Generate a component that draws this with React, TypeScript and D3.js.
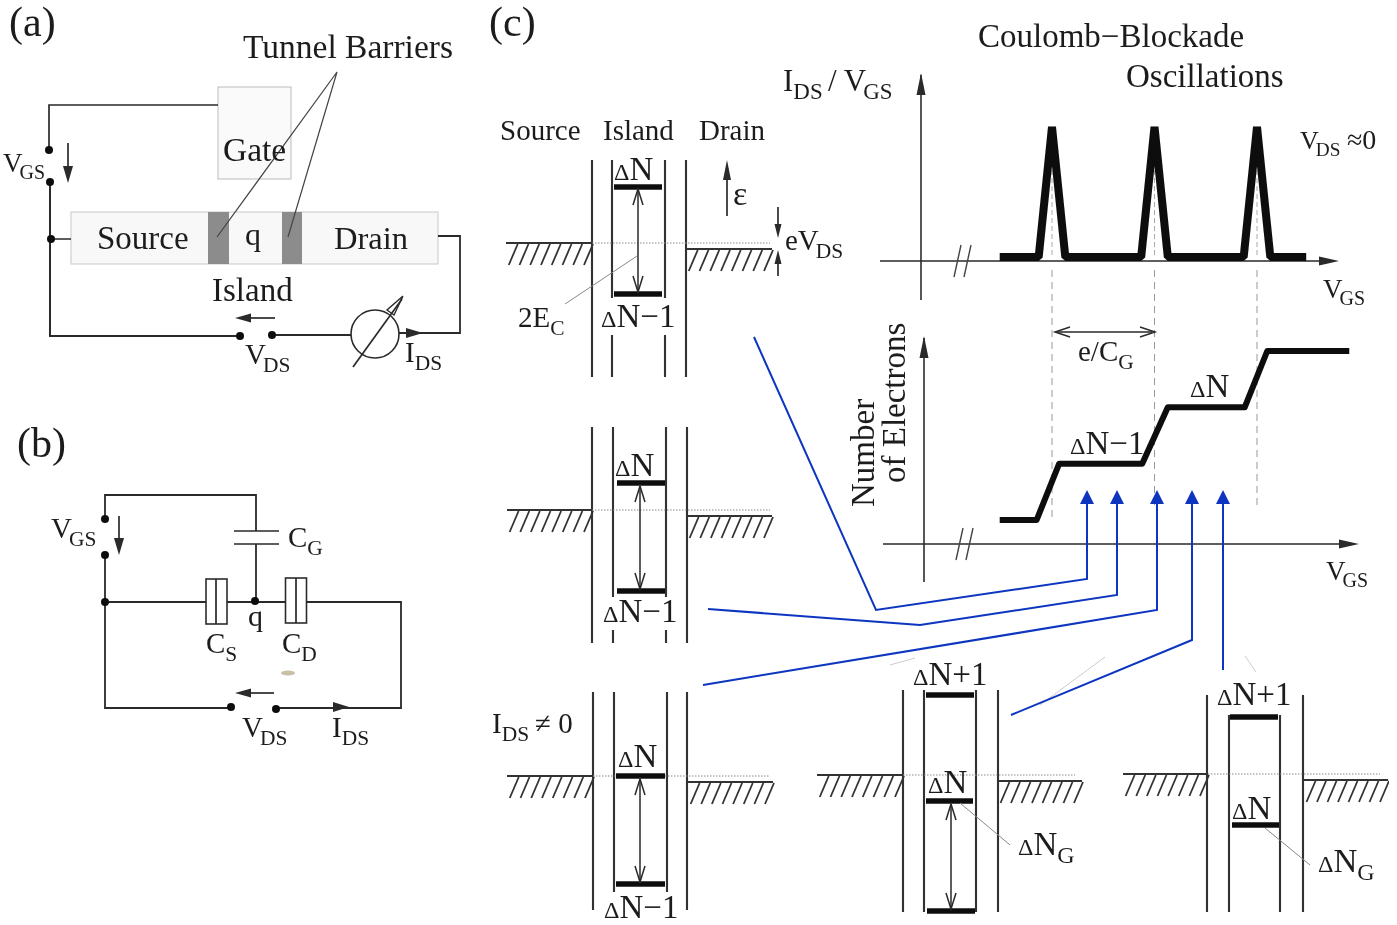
import React from "react";
import * as d3 from "d3";

// ---- Data ----
// Peak curve: gate voltage in units of the period e/C_G, current normalised to peak height
const currentVgs = [-0.51, -0.13, 0, 0.13, 0.87, 1, 1.13, 1.87, 2, 2.13, 2.48];
const currentVal = [0, 0, 1, 0, 0, 1, 0, 0, 1, 0, 0];
// Staircase: number of electrons (steps above the first plateau)
const stairVgs = [-0.51, -0.15, 0.07, 0.88, 1.13, 1.88, 2.1, 2.9];
const stairVal = [0, 0, 1, 1, 2, 2, 3, 3];
const peakPositions = [0, 1, 2];
const dashEnds = [520, 505, 505];

// Blue connectors: polylines ending in arrow tips on the staircase axis
const blueLines: [number, number][][] = [
  [[754, 337], [876, 610], [1087, 579], [1087, 504]],
  [[708, 609], [920, 625], [1117, 595], [1117, 504]],
  [[703, 685], [1157, 610], [1157, 504]],
  [[1011, 715], [1192, 640], [1192, 504]],
  [[1223, 670], [1223, 504]],
];

// Energy diagrams
const wells = [
  { ox: [592, 686], oy: [160, 377], ix: [612, 665], iy: [[160, 298], [335, 377]], src: [506, 592, 243], drn: [686, 772, 249], dot: [243, 592, 770], bars: [[614, 662, 187], [614, 662, 294]], arrow: [638, 189, 292] },
  { ox: [592, 687], oy: [427, 643], ix: [613, 666], iy: [[427, 597], [630, 643]], src: [507, 592, 510], drn: [687, 772, 516], dot: [510, 592, 770], bars: [[617, 665, 483], [617, 665, 591]], arrow: [640, 486, 589] },
  { ox: [593, 687], oy: [692, 910], ix: [614, 667], iy: [[692, 892]], src: [507, 593, 776], drn: [688, 773, 782], dot: [776, 593, 770], bars: [[616, 665, 776], [616, 665, 884]], arrow: [640, 779, 882] },
  { ox: [903, 998], oy: [690, 912], ix: [924, 976], iy: [[690, 912]], src: [817, 903, 775], drn: [998, 1082, 781], dot: [775, 903, 1075], bars: [[926, 974, 695], [926, 973, 801], [927, 975, 911]], arrow: [951, 804, 909] },
  { ox: [1207, 1303], oy: [695, 912], ix: [1229, 1280], iy: [[715, 912]], src: [1123, 1208, 774], drn: [1304, 1388, 780], dot: [774, 1208, 1380], bars: [[1230, 1278, 717], [1232, 1279, 825]], arrow: null },
];

// Labels: [text, subscript, x, y, font size]
const labels: [string, string, number, number, number?][] = [
  ["(a)", "", 9, 36, 42], ["(b)", "", 17, 457, 42], ["(c)", "", 489, 36, 42],
  ["Tunnel Barriers", "", 243, 58, 33.5], ["Gate", "", 223, 161, 33.5], ["Source", "", 97, 249, 33],
  ["q", "", 245, 245, 32], ["Drain", "", 334, 249, 32.5], ["Island", "", 212, 301, 33],
  ["V", "GS", 3, 172, 27], ["V", "DS", 245, 364], ["I", "DS", 405, 362],
  ["V", "GS", 51, 538], ["C", "G", 288, 547], ["q", "", 248, 626, 30], ["C", "S", 206, 653], ["C", "D", 282, 653],
  ["V", "DS", 242, 737], ["I", "DS", 332, 737],
  ["Source", "", 500, 140, 29], ["Island", "", 603, 140, 29], ["Drain", "", 699, 140, 29],
  ["ε", "", 733, 205, 34], ["eV", "DS", 785, 250], ["2E", "C", 518, 327],
  ["Coulomb−Blockade", "", 978, 47, 33], ["Oscillations", "", 1126, 87, 33],
  ["I", "DS", 783, 91, 31], ["/ V", "GS", 828, 91, 31],
  ["V", "DS", 1300, 149, 26], ["≈0", "", 1347, 149, 28],
  ["V", "GS", 1323, 298, 27], ["e/C", "G", 1078, 361], ["V", "GS", 1326, 580, 27],
  ["I", "DS", 492, 733], ["≠ 0", "", 535, 733, 29],
];
// Level labels: [text after the small delta, subscript, x, y]
const levelLabels: [string, string, number, number][] = [
  ["N", "", 614, 180], ["N−1", "", 601, 327], ["N", "", 615, 476], ["N−1", "", 603, 622],
  ["N", "", 618, 767], ["N−1", "", 604, 918], ["N+1", "", 913, 685], ["N", "", 928, 793],
  ["N", "G", 1018, 855], ["N+1", "", 1217, 705], ["N", "", 1232, 819], ["N", "G", 1318, 872],
  ["N−1", "", 1070, 454], ["N", "", 1190, 397],
];

// ---- Scales ----
const xV = d3.scaleLinear().domain([0, 1]).range([1052, 1154.5]);
const yI = d3.scaleLinear().domain([0, 1]).range([257, 127]);
const yN = d3.scaleLinear().domain([0, 3]).range([520, 351]);
const line = d3.line<[number, number]>();
const ink = "#2a2a2a";
const serif = "'Liberation Serif', 'Times New Roman', serif";

type P = [number, number];
const L = ({ p, w = 1.7, c = ink, dash, fill = "none" }: { p: P[]; w?: number; c?: string; dash?: string; fill?: string }) => (
  <path d={line(p) ?? ""} stroke={c} strokeWidth={w} fill={fill} strokeDasharray={dash} strokeLinejoin="miter" />
);
const Tip = ({ x, y, dir, len = 14, wid = 6.5, c = ink }: { x: number; y: number; dir: "u" | "d" | "l" | "r"; len?: number; wid?: number; c?: string }) => {
  const v = { u: [0, 1], d: [0, -1], l: [1, 0], r: [-1, 0] }[dir];
  const n = [v[1], v[0]];
  const bx = x + v[0] * len, by = y + v[1] * len;
  const pts: P[] = [[x, y], [bx + n[0] * wid, by + n[1] * wid], [bx - n[0] * wid, by - n[1] * wid], [x, y]];
  return <path d={line(pts) + "Z"} fill={c} stroke="none" />;
};
const Dot = ({ x, y }: { x: number; y: number }) => <circle cx={x} cy={y} r={4} fill="#111" />;
const Open = ({ x, y, s }: { x: number; y: number; s: number }) => (
  <L p={[[x - 5, y + s * 16], [x, y], [x + 5, y + s * 16]]} w={1.5} />
);
const Hatch = ({ x0, x1, y }: { x0: number; x1: number; y: number }) => {
  const n = Math.round((x1 - x0) / 10.6);
  const xs = d3.range(n).map((i) => x1 + 1 - i * ((x1 - x0) / n));
  return (
    <g>
      <L p={[[x0, y], [x1, y]]} w={2.2} c="#333" />
      {xs.map((x, i) => <L key={i} p={[[x, y + 1], [x - 9, y + 22]]} w={1.8} c="#333" />)}
    </g>
  );
};
const Label = ({ t, s, x, y, size = 29 }: { t: string; s: string; x: number; y: number; size?: number }) => (
  <text x={x} y={y} fontFamily={serif} fontSize={size} fill="#1c1c1c">
    {t}
    {s && <tspan fontSize={size * 0.74} dy={size * 0.27} dx={t.endsWith("V") ? -3 : 0}>{s}</tspan>}
  </text>
);
const LevelLabel = ({ t, s, x, y }: { t: string; s: string; x: number; y: number }) => (
  <text x={x} y={y} fontFamily={serif} fontSize={33} fill="#1c1c1c">
    <tspan fontSize={24}>Δ</tspan>{t}
    {s && <tspan fontSize={24} dy={8}>{s}</tspan>}
  </text>
);

const WellDiagram = ({ w }: { w: (typeof wells)[number] }) => (
  <g>
    {w.ox.map((x) => <L key={x} p={[[x, w.oy[0]], [x, w.oy[1]]]} w={2.1} c="#333" />)}
    {w.ix.map((x) => w.iy.map((r, i) => <L key={x + "-" + i} p={[[x, r[0]], [x, r[1]]]} w={2.1} c="#333" />))}
    <L p={[[w.dot[1], w.dot[0]], [w.dot[2], w.dot[0]]]} w={1} c="#888" dash="1.5 1.5" />
    <Hatch x0={w.src[0]} x1={w.src[1]} y={w.src[2]} />
    <Hatch x0={w.drn[0]} x1={w.drn[1]} y={w.drn[2]} />
    {w.bars.map((b, i) => <L key={i} p={[[b[0], b[2]], [b[1], b[2]]]} w={5.5} c="#111" />)}
    {w.arrow && (
      <g>
        <L p={[[w.arrow[0], w.arrow[1]], [w.arrow[0], w.arrow[2]]]} w={1.5} />
        <Open x={w.arrow[0]} y={w.arrow[1]} s={1} />
        <Open x={w.arrow[0]} y={w.arrow[2]} s={-1} />
      </g>
    )}
  </g>
);

const Axis = ({ x, y, x0, x1, y0, y1, brk }: { x: number; y: number; x0: number; x1: number; y0: number; y1: number; brk: number }) => (
  <g>
    <L p={[[x0, y], [x1, y]]} w={1.6} />
    <L p={[[x, y0], [x, y1]]} w={1.6} />
    <Tip x={x1 + 19} y={y} dir="r" len={20} wid={4.5} />
    <Tip x={x} y={y1 - 2} dir="u" len={22} wid={4.5} />
    <path d={`M${brk - 5},${y + 16}L${brk + 2},${y - 16}M${brk + 5},${y + 16}L${brk + 12},${y - 16}`} stroke="#444" strokeWidth={1.4} fill="none" />
  </g>
);

export default function App() {
  const currentPts = currentVgs.map((v, i) => [xV(v), yI(currentVal[i])] as P);
  const stairPts = stairVgs.map((v, i) => [xV(v), yN(stairVal[i])] as P);
  return (
    <svg width={1397} height={925} style={{ position: "absolute", left: 0, top: 0, background: "#fff" }}>
      <defs>
        <filter id="scan" x="0" y="0" width="100%" height="100%">
          <feGaussianBlur stdDeviation="0.35" />
        </filter>
      </defs>
      <rect width={1397} height={925} fill="#fff" />
      <g filter="url(#scan)">
        {/* Panel (a) */}
        <rect x={218} y={87} width={73} height={92} fill="#fafafa" stroke="#bbb" strokeWidth={1} />
        <rect x={71} y={212} width={367} height={52} fill="#f8f8f8" stroke="#c8c8c8" strokeWidth={1} />
        <rect x={208} y={212} width={21} height={52} fill="#8c8c8c" />
        <rect x={282} y={212} width={20} height={52} fill="#8c8c8c" />
        <L p={[[218, 105], [49, 105], [49, 150]]} />
        <L p={[[50, 182], [50, 336], [240, 336]]} w={2} />
        <L p={[[51, 239], [71, 239]]} w={1.5} />
        <L p={[[272, 335], [351, 335]]} w={1.8} />
        <L p={[[399, 333], [460, 333], [460, 236], [438, 236]]} w={1.8} />
        <circle cx={375} cy={334} r={24} fill="none" stroke={ink} strokeWidth={1.6} />
        <L p={[[353, 367], [402, 299]]} />
        <path d={line([[403, 296], [387, 310], [394, 315], [403, 296]]) ?? ""} fill="none" stroke={ink} strokeWidth={1.4} />
        <Dot x={49} y={150} /><Dot x={50} y={182} /><Dot x={51} y={239} /><Dot x={240} y={336} /><Dot x={272} y={335} />
        <L p={[[68, 143], [68, 170]]} /><Tip x={68} y={183} dir="d" len={17} wid={5} />
        <L p={[[275, 318], [248, 318]]} /><Tip x={235} y={318} dir="l" len={16} wid={4.5} />
        <Tip x={423} y={333} dir="r" len={17} wid={5} />
        <L p={[[217, 237], [337, 72], [288, 237]]} w={1.2} c="#444" />

        {/* Panel (b) */}
        <L p={[[105, 519], [105, 495], [256, 495], [256, 531]]} w={1.8} />
        <L p={[[234, 531], [279, 531]]} /><L p={[[234, 544], [279, 544]]} />
        <L p={[[256, 544], [256, 601]]} w={1.8} />
        <L p={[[105, 555], [105, 708], [231, 708]]} w={1.8} />
        <L p={[[276, 708], [401, 708], [401, 602], [307, 602]]} w={1.8} />
        <L p={[[105, 602], [206, 602]]} w={1.8} /><L p={[[227, 602], [285, 602]]} w={1.8} />
        <rect x={206} y={579} width={21} height={45} fill="#fff" stroke={ink} strokeWidth={1.6} />
        <L p={[[216, 579], [216, 624]]} />
        <rect x={285.5} y={578} width={21} height={45} fill="#fff" stroke={ink} strokeWidth={1.6} />
        <L p={[[296, 578], [296, 623]]} />
        <Dot x={105} y={519} /><Dot x={105} y={555} /><Dot x={105} y={602} /><Dot x={255} y={601} /><Dot x={231} y={707} /><Dot x={276} y={709} />
        <L p={[[119, 516], [119, 545]]} /><Tip x={119} y={555} dir="d" len={17} wid={5} />
        <L p={[[274, 693], [246, 693]]} /><Tip x={235} y={693} dir="l" len={16} wid={4.5} />
        <Tip x={349} y={707} dir="r" len={16} wid={5} />
        <ellipse cx={288} cy={673} rx={7} ry={2.5} fill="#cbbfa6" />

        {/* Panel (c): energy diagrams */}
        {wells.map((w, i) => <WellDiagram key={i} w={w} />)}
        <L p={[[727, 178], [727, 216]]} /><Tip x={727} y={160} dir="u" len={20} wid={4} />
        <L p={[[778, 207], [778, 225]]} /><Tip x={778} y={238} dir="d" len={14} wid={3.5} />
        <L p={[[778, 276], [778, 262]]} /><Tip x={778} y={250} dir="u" len={14} wid={3.5} />
        <L p={[[565, 304], [637, 256]]} w={1} c="#888" />
        <L p={[[960, 803], [1010, 845]]} w={1} c="#888" />
        <L p={[[1265, 828], [1310, 865]]} w={1} c="#888" />
        <L p={[[890, 665], [915, 658]]} w={1} c="#ccc" />
        <L p={[[1040, 705], [1105, 657]]} w={1} c="#ccc" />
        <L p={[[1245, 656], [1256, 672]]} w={1} c="#ccc" />

        {/* Panel (c): curves */}
        {peakPositions.map((p, i) => (
          <L key={i} p={[[xV(p), 270], [xV(p), dashEnds[i]]]} w={1} c="#999" dash="7 5" />
        ))}
        {peakPositions.map((p, i) => (
          <L key={i} p={[[xV(p), 170], [xV(p), 255]]} w={1} c="#aaa" dash="5 3" />
        ))}
        <Axis x={921} y={261} x0={880} x1={1320} y0={300} y1={75} brk={959} />
        <Axis x={924} y={544} x0={883} x1={1340} y0={582} y1={338} brk={961} />
        <path d={line(currentPts) ?? ""} fill="none" stroke="#0c0c0c" strokeWidth={8} strokeLinejoin="bevel" />
        <path d={line(stairPts) ?? ""} fill="none" stroke="#0c0c0c" strokeWidth={6} strokeLinejoin="round" />
        <L p={[[1056, 332], [1152, 332]]} w={1.4} />
        <path d={`M1070,327L1055,332L1070,337M1140,327L1155,332L1140,337`} fill="none" stroke={ink} strokeWidth={1.5} />

        {/* Rotated axis label */}
        <text transform="translate(874,507) rotate(-90)" fontFamily={serif} fontSize={33} fill="#1c1c1c">Number</text>
        <text transform="translate(905,483) rotate(-90)" fontFamily={serif} fontSize={33} fill="#1c1c1c">of Electrons</text>

        {labels.map(([t, s, x, y, size], i) => <Label key={i} t={t} s={s} x={x} y={y} size={size ?? 29} />)}
        {levelLabels.map(([t, s, x, y], i) => <LevelLabel key={i} t={t} s={s} x={x} y={y} />)}

        {/* Blue connectors */}
        {blueLines.map((p, i) => {
          const last = p[p.length - 1];
          return (
            <g key={i}>
              <path d={line(p) ?? ""} fill="none" stroke="#0a35c0" strokeWidth={2} />
              <Tip x={last[0]} y={last[1] - 14} dir="u" len={14} wid={7} c="#0a35c0" />
            </g>
          );
        })}
      </g>
    </svg>
  );
}
